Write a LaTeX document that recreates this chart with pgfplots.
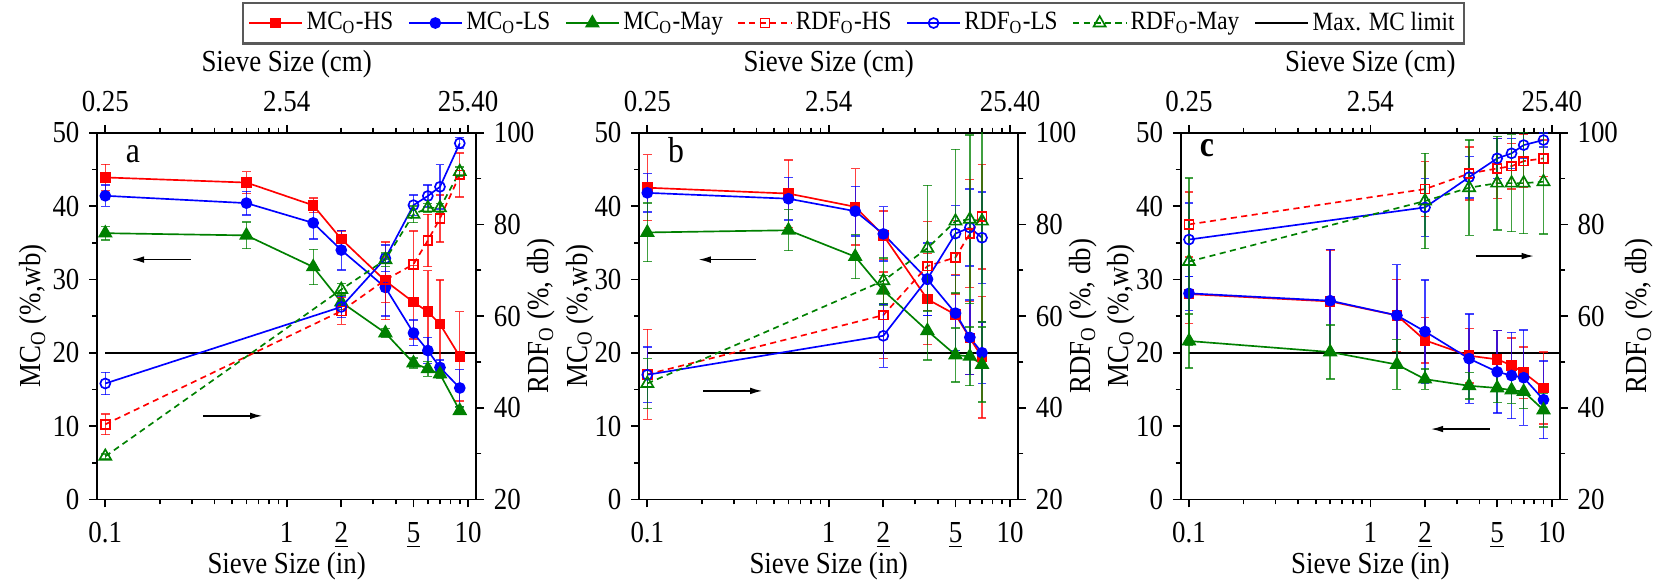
\documentclass[border=0pt]{standalone}
\usepackage{pgfplots}
\pgfplotsset{compat=1.18}
\usepackage{fontspec}
\setmainfont{Liberation Serif}[FakeStretch=0.88]
\usetikzlibrary{arrows.meta}
\definecolor{cR}{RGB}{255,0,0}
\definecolor{cB}{RGB}{0,0,255}
\definecolor{cG}{RGB}{0,128,0}
\tikzset{
  myArr/.style={black, line width=0.6pt, -{Latex[length=4.5pt,width=2.4pt]}},
  myLetter/.style={font=\fontsize{13}{15}\selectfont, anchor=base west},
}
\pgfkeys{/pgf/number format/assume math mode=true}
\pgfplotsset{
  every tick/.style={black, line width=0.6pt},
  every axis/.append style={
    scale only axis, tick align=outside,
    major tick length=2.8pt, minor tick length=1.8pt,
    axis line style={line width=0.7pt},
    tick label style={font=\fontsize{11}{13}\selectfont},
  },
  every axis label/.append style={font=\fontsize{11}{13}\selectfont},
  /pgfplots/myEB/.style={/pgfplots/error bars/y dir=both, /pgfplots/error bars/y explicit,
    /pgfplots/error bars/error bar style={line width=0.5pt, opacity=0.75, solid},
    /pgfplots/error bars/error mark options={rotate=90, line width=0.5pt, mark size=1.6pt, opacity=0.75}},
  /pgfplots/mchs/.style={cR, line width=0.6pt, mark=square*, mark size=1.6pt, mark options={solid, fill=cR}, /pgfplots/myEB},
  /pgfplots/mcls/.style={cB, line width=0.6pt, mark=*, mark size=1.8pt, mark options={solid, fill=cB}, /pgfplots/myEB},
  /pgfplots/mcmay/.style={cG, line width=0.6pt, mark=triangle*, mark size=2.5pt, mark options={solid, fill=cG}, /pgfplots/myEB},
  /pgfplots/rdfhs/.style={cR, line width=0.6pt, dash pattern=on 2.2pt off 1.6pt, mark=square, mark size=1.6pt, mark options={solid}, /pgfplots/myEB},
  /pgfplots/rdfls/.style={cB, line width=0.6pt, mark=o, mark size=1.8pt, mark options={solid}, /pgfplots/myEB},
  /pgfplots/rdfmay/.style={cG, line width=0.6pt, dash pattern=on 2.2pt off 1.6pt, mark=triangle, mark size=2.5pt, mark options={solid}, /pgfplots/myEB},
}
\begin{document}
\begin{tikzpicture}
%================ PANEL A ================
\begin{axis}[at={(34.92pt,31.14pt)}, anchor=south west,
    width=136.55pt, height=132.05pt, xmode=log, xmin=0.09, xmax=11.1,
    minor xtick={0.2,0.3,0.4,0.5,0.6,0.7,0.8,0.9,2,3,4,5,6,7,8,9},
    axis x line*=bottom, axis y line*=left,
    ymin=0, ymax=50, ytick={0,10,20,30,40,50}, minor ytick={5,15,25,35,45},
    xtick={0.1,1,2,5,10}, xticklabels={0.1,1,\underline{2},\underline{5},10},
    xticklabel style={yshift=-1.8pt},
    xlabel={Sieve Size (in)}, ylabel={MC\textsubscript{O} (\%,wb)},
    xlabel style={at={(axis description cs:0.5,-0.182)}, anchor=center},
    ylabel style={at={(axis description cs:-0.168,0.5)}, anchor=center}]
\addplot[black, line width=0.8pt] coordinates {(0.1,20) (11.1,20)};
\addplot[mchs] coordinates {(0.1,43.9)+-(0,1.8) (0.6,43.2)+-(0,1.5) (1.4,40.1)+-(0,1.0) (2,35.5)+-(0,1.1) (3.5,29.8)+-(0,5.3) (5,26.9)+-(0,5.0) (6,25.6)+-(0,5.6) (7,23.9)+-(0,6.0) (9,19.5)+-(0,6.1)};
\addplot[mcls] coordinates {(0.1,41.4)+-(0,1.45) (0.6,40.4)+-(0,1.6) (1.4,37.7)+-(0,2.2) (2,34.0)+-(0,2.7) (3.5,28.9)+-(0,3.9) (5,22.7)+-(0,1.75) (6,20.3)+-(0,1.8) (7,18.0)+-(0,1.0) (9,15.2)+-(0,2.5)};
\addplot[mcmay] coordinates {(0.1,36.3)+-(0,0.95) (0.6,36.0)+-(0,1.8) (1.4,31.7)+-(0,2.4) (2,26.9)+-(0,1.0) (3.5,22.7)+-(0,0.6) (5,18.6)+-(0,0.7) (6,17.8)+-(0,1.0) (7,17.1)+-(0,0.6) (9,12.1)+-(0,0.5)};
\draw[myArr] (axis cs:0.295,32.7) -- (axis cs:0.1396,32.7);
\draw[myArr] (axis cs:0.347,11.4) -- (axis cs:0.736,11.4);
\node[myLetter] at (axis description cs:0.05,0.919) {a};
\end{axis}
\begin{axis}[at={(34.92pt,31.14pt)}, anchor=south west,
    width=136.55pt, height=132.05pt, xmode=log, xmin=0.09, xmax=11.1,
    minor xtick={0.2,0.3,0.4,0.5,0.6,0.7,0.8,0.9,2,3,4,5,6,7,8,9},
    axis x line*=top, axis y line*=right,
    ymin=20, ymax=100, ytick={20,40,60,80,100}, minor ytick={30,50,70,90},
    xtick={0.1,1,10}, xticklabels={0.25,2.54,25.40},
    xticklabel style={yshift=1pt},
    xlabel={Sieve Size (cm)}, ylabel={RDF\textsubscript{O} (\%, db)},
    xlabel style={at={(axis description cs:0.5,1.188)}, anchor=center},
    ylabel style={at={(axis description cs:1.171,0.5)}, anchor=center}]
\addplot[rdfhs] coordinates {(0.1,36.4)+-(0,2.25) (2,61.1)+-(0,2.9) (3.5,67.9)+-(0,5.0) (5,71.3)+-(0,7.3) (6,76.5)+-(0,5.7) (7,81.3)+-(0,5.1) (9,90.8)+-(0,4.8)};
\addplot[rdfls] coordinates {(0.1,45.3)+-(0,2.4) (2,62.0)+-(0,2.3) (3.5,72.6)+-(0,2.9) (5,84.2)+-(0,2.2) (6,86.2)+-(0,2.4) (7,88.2)+-(0,4.8) (9,97.7)+-(0,1.2)};
\addplot[rdfmay] coordinates {(0.1,29.4)+-(0,0.5) (2,65.8)+-(0,1.3) (3.5,72.3)+-(0,1.5) (5,82.2)+-(0,1.8) (6,83.6)+-(0,1.0) (7,83.6)+-(0,1.0) (9,91.5)+-(0,1.0)};
\end{axis}
%================ PANEL B ================
\begin{axis}[at={(230.04pt,31.14pt)}, anchor=south west,
    width=136.55pt, height=132.05pt, xmode=log, xmin=0.09, xmax=11.1,
    minor xtick={0.2,0.3,0.4,0.5,0.6,0.7,0.8,0.9,2,3,4,5,6,7,8,9},
    axis x line*=bottom, axis y line*=left,
    ymin=0, ymax=50, ytick={0,10,20,30,40,50}, minor ytick={5,15,25,35,45},
    xtick={0.1,1,2,5,10}, xticklabels={0.1,1,\underline{2},\underline{5},10},
    xticklabel style={yshift=-1.8pt},
    xlabel={Sieve Size (in)}, ylabel={MC\textsubscript{O} (\%,wb)},
    xlabel style={at={(axis description cs:0.5,-0.182)}, anchor=center},
    ylabel style={at={(axis description cs:-0.156,0.5)}, anchor=center}]
\addplot[black, line width=0.8pt] coordinates {(0.1,20) (11.1,20)};
\addplot[mchs] coordinates {(0.1,42.5)+-(0,4.5) (0.6,41.7)+-(0,4.6) (1.4,39.9)+-(0,5.2) (2,36.0)+-(0,3.3) (3.5,27.3)+-(0,6.2) (5,25.2)+-(0,5.5) (6,22.0)+-(0,5.0) (7,19.4)+-(0,8.3)};
\addplot[mcls] coordinates {(0.1,41.8)+-(0,2.6) (0.6,41.0)+-(0,2.9) (1.4,39.3)+-(0,3.4) (2,36.2)+-(0,3.7) (3.5,30.0)+-(0,4.9) (5,25.4)+-(0,5.1) (6,22.1)+-(0,5.1) (7,20.0)+-(0,4.2)};
\addplot[mcmay] coordinates {(0.1,36.4)+-(0,4.0) (0.6,36.7)+-(0,2.8) (1.4,33.1)+-(0,3.0) (2,28.5)+-(0,2.0) (3.5,23.0)+-(0,4.0) (5,19.7)+-(0,3.7) (6,19.5)+-(0,4.0) (7,18.4)+-(0,5.1)};
\draw[myArr] (axis cs:0.397,32.7) -- (axis cs:0.191,32.7);
\draw[myArr] (axis cs:0.203,14.8) -- (axis cs:0.432,14.8);
\node[myLetter] at (axis description cs:0.051,0.919) {b};
\end{axis}
\begin{axis}[at={(230.04pt,31.14pt)}, anchor=south west,
    width=136.55pt, height=132.05pt, xmode=log, xmin=0.09, xmax=11.1,
    minor xtick={0.2,0.3,0.4,0.5,0.6,0.7,0.8,0.9,2,3,4,5,6,7,8,9},
    axis x line*=top, axis y line*=right,
    ymin=20, ymax=100, ytick={20,40,60,80,100}, minor ytick={30,50,70,90},
    xtick={0.1,1,10}, xticklabels={0.25,2.54,25.40},
    xticklabel style={yshift=1pt},
    xlabel={Sieve Size (cm)}, ylabel={RDF\textsubscript{O} (\%, db)},
    xlabel style={at={(axis description cs:0.5,1.188)}, anchor=center},
    ylabel style={at={(axis description cs:1.171,0.5)}, anchor=center},
    legend style={at={(axis description cs:0.565,1.299)}, anchor=center,
      draw=black!65, line width=0.8pt, font=\fontsize{9.5}{11}\selectfont,
      inner sep=2pt, nodes={inner sep=1.3pt},
      /tikz/every even column/.append style={column sep=4pt}},
    legend columns=7,
    legend image code/.code={\draw[mark repeat=2,mark phase=2] plot coordinates {(0cm,0cm) (0.335cm,0cm) (0.67cm,0cm)};}]
\addlegendimage{cR, line width=0.6pt, mark=square*, mark size=1.6pt, mark options={solid, fill=cR}}
\addlegendentry{MC\textsubscript{O}-HS}
\addlegendimage{cB, line width=0.6pt, mark=*, mark size=1.8pt, mark options={solid, fill=cB}}
\addlegendentry{MC\textsubscript{O}-LS}
\addlegendimage{cG, line width=0.6pt, mark=triangle*, mark size=2.5pt, mark options={solid, fill=cG}}
\addlegendentry{MC\textsubscript{O}-May}
\addlegendimage{cR, line width=0.6pt, dash pattern=on 2.2pt off 1.6pt, mark=square, mark size=1.6pt, mark options={solid}}
\addlegendentry{RDF\textsubscript{O}-HS}
\addlegendimage{cB, line width=0.6pt, mark=o, mark size=1.8pt, mark options={solid}}
\addlegendentry{RDF\textsubscript{O}-LS}
\addlegendimage{cG, line width=0.6pt, dash pattern=on 2.2pt off 1.6pt, mark=triangle, mark size=2.5pt, mark options={solid}}
\addlegendentry{RDF\textsubscript{O}-May}
\addlegendimage{black, line width=0.8pt}
\addlegendentry{Max. MC limit}
\addplot[rdfhs, forget plot] coordinates {(0.1,47.3)+-(0,9.8) (2,60.2)+-(0,9.4) (3.5,70.9)+-(0,9.7) (5,72.8)+-(0,8.0) (6,78.0)+-(0,11.8) (7,81.7)+-(0,11.4)};
\addplot[rdfls, forget plot] coordinates {(0.1,47.2)+-(0,6.1) (2,55.7)+-(0,6.9) (3.5,68.1)+-(0,8.0) (5,78.0)+-(0,6.1) (6,79.3)+-(0,8.4) (7,77.1)+-(0,10.0)};
\addplot[rdfmay, forget plot] coordinates {(0.1,45.3)+-(0,5.5) (2,67.7)+-(0,5.0) (3.5,74.8)+-(0,13.7) (5,80.7)+-(0,15.7) (6,81.1)+-(0,18.4) (7,80.7)+-(0,22.0)};
\end{axis}
%================ PANEL C ================
\begin{axis}[at={(425.05pt,31.14pt)}, anchor=south west,
    width=136.55pt, height=132.05pt, xmode=log, xmin=0.09, xmax=11.1,
    minor xtick={0.2,0.3,0.4,0.5,0.6,0.7,0.8,0.9,2,3,4,5,6,7,8,9},
    axis x line*=bottom, axis y line*=left,
    ymin=0, ymax=50, ytick={0,10,20,30,40,50}, minor ytick={5,15,25,35,45},
    xtick={0.1,1,2,5,10}, xticklabels={0.1,1,\underline{2},\underline{5},10},
    xticklabel style={yshift=-1.8pt},
    xlabel={Sieve Size (in)}, ylabel={MC\textsubscript{O} (\%,wb)},
    xlabel style={at={(axis description cs:0.5,-0.182)}, anchor=center},
    ylabel style={at={(axis description cs:-0.156,0.5)}, anchor=center}]
\addplot[black, line width=0.8pt] coordinates {(0.1,20) (11.1,20)};
\addplot[mchs] coordinates {(0.1,28.0)+-(0,4.0) (0.6,27.0)+-(0,7.0) (1.4,25.1)+-(0,4.9) (2,21.7)+-(0,3.1) (3.5,19.6)+-(0,3.7) (5,19.1)+-(0,3.9) (6,18.3)+-(0,3.7) (7,17.3)+-(0,3.5) (9,15.2)+-(0,4.9)};
\addplot[mcls] coordinates {(0.1,28.1)+-(0,2.3) (0.6,27.1)+-(0,7.0) (1.4,25.1)+-(0,6.9) (2,22.9)+-(0,7.0) (3.5,19.2)+-(0,6.1) (5,17.4)+-(0,5.6) (6,16.9)+-(0,5.9) (7,16.6)+-(0,6.5) (9,13.6)+-(0,5.3)};
\addplot[mcmay] coordinates {(0.1,21.6)+-(0,3.7) (0.6,20.1)+-(0,3.7) (1.4,18.4)+-(0,3.4) (2,16.4)+-(0,1.4) (3.5,15.5)+-(0,1.8) (5,15.2)+-(0,2.0) (6,14.9)+-(0,1.8) (7,14.7)+-(0,2.3) (9,12.2)+-(0,2.3)};
\draw[myArr] (axis cs:4.56,9.6) -- (axis cs:2.15,9.6);
\node[myLetter, font=\fontsize{13}{15}\selectfont\bfseries] at (axis description cs:0.0245,0.935) {c};
\end{axis}
\begin{axis}[at={(425.05pt,31.14pt)}, anchor=south west,
    width=136.55pt, height=132.05pt, xmode=log, xmin=0.09, xmax=11.1,
    minor xtick={0.2,0.3,0.4,0.5,0.6,0.7,0.8,0.9,2,3,4,5,6,7,8,9},
    axis x line*=top, axis y line*=right,
    ymin=20, ymax=100, ytick={20,40,60,80,100}, minor ytick={30,50,70,90},
    xtick={0.1,1,10}, xticklabels={0.25,2.54,25.40},
    xticklabel style={yshift=1pt},
    xlabel={Sieve Size (cm)}, ylabel={RDF\textsubscript{O} (\%, db)},
    xlabel style={at={(axis description cs:0.5,1.188)}, anchor=center},
    ylabel style={at={(axis description cs:1.209,0.5)}, anchor=center}]
\addplot[rdfhs] coordinates {(0.1,80.0)+-(0,7.1) (2,87.7)+-(0,6.0) (3.5,91.1)+-(0,5.8) (5,92.2)+-(0,6.5) (6,92.7)+-(0,5.0) (7,93.8)+-(0,5.8) (9,94.4)+-(0,4.0)};
\addplot[rdfls] coordinates {(0.1,76.7)+-(0,8.0) (2,83.7)+-(0,6.3) (3.5,90.3)+-(0,4.5) (5,94.4)+-(0,4.4) (6,95.5)+-(0,3.3) (7,97.3)+-(0,2.9) (9,98.4)+-(0,1.5)};
\addplot[rdfmay] coordinates {(0.1,71.9)+-(0,18.2) (2,85.1)+-(0,10.4) (3.5,88.0)+-(0,10.4) (5,89.0)+-(0,10.2) (6,89.0)+-(0,10.6) (7,89.0)+-(0,11.0) (9,89.3)+-(0,11.4)};
\draw[myArr] (axis cs:3.80,73.1) -- (axis cs:7.98,73.1);
\end{axis}
\pgfresetboundingbox
\path (0,0) rectangle (599.4pt,210.96pt);
\end{tikzpicture}
\end{document}
